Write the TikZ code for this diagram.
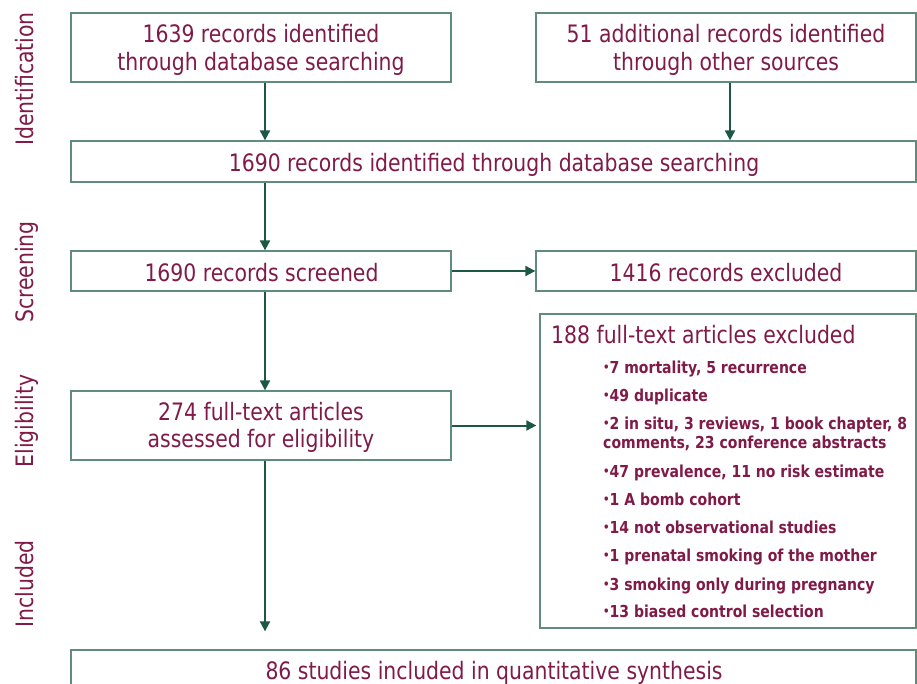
\documentclass[tikz,border=0pt]{standalone}
\usepackage{fontspec}
\setmainfont{DejaVu Sans}[FakeStretch=0.85]
\usetikzlibrary{arrows.meta}
\definecolor{txtc}{RGB}{128,26,72}
\definecolor{bordc}{RGB}{96,140,124}
\definecolor{arrc}{RGB}{28,88,68}
\newcommand{\pbul}{\raisebox{1.5pt}{\fontsize{12}{12}\selectfont •}}
\tikzset{
  boxc/.style={draw=bordc, line width=1.3pt, inner sep=0pt},
  lbl/.style={text=txtc, inner sep=0pt, anchor=base, font=\fontsize{24}{28}\selectfont},
  lblw/.style={lbl, anchor=base west},
  item/.style={text=txtc, inner sep=0pt, anchor=base west, font=\bfseries\fontsize{16.5}{19}\selectfont},
  side/.style={text=txtc, inner sep=0pt, anchor=base, rotate=90, font=\fontsize{24}{28}\selectfont},
  flow/.style={draw=arrc, line width=2pt, -{Triangle[length=10pt,width=10pt]}},
}
\begin{document}
\begin{tikzpicture}[x=1pt,y=-1pt]
\useasboundingbox (0,0) rectangle (917,684);
\clip (0,0) rectangle (917,684);

% boxes
\node[boxc, minimum width=380pt, minimum height=69pt] (A) at (261,47.5) {};
\node[boxc, minimum width=380pt, minimum height=69pt] (B) at (726,47.5) {};
\node[boxc, minimum width=845pt, minimum height=41pt] (C) at (493.5,161.5) {};
\node[boxc, minimum width=380pt, minimum height=40pt] (D) at (261,271) {};
\node[boxc, minimum width=380pt, minimum height=40pt] (E) at (726,271) {};
\node[boxc, minimum width=376pt, minimum height=314pt] (F) at (728,471) {};
\node[boxc, minimum width=380pt, minimum height=69pt] (G) at (261,425.5) {};
\node[boxc, minimum width=845pt, minimum height=40pt] (H) at (493.5,670) {};

% box texts
\node[lbl] (a1) at (261,43) {1639 records identified};
\node[lbl] (a2) at (261,71) {through database searching};
\node[lbl] (b1) at (726,43) {51 additional records identified};
\node[lbl] (b2) at (726,71) {through other sources};
\node[lbl] (c1) at (494,172) {1690 records identified through database searching};
\node[lbl] (d1) at (261.5,281) {1690 records screened};
\node[lbl] (e1) at (726,281) {1416 records excluded};
\node[lbl] (g1) at (261,420.5) {274 full-text articles};
\node[lbl] (g2) at (261,447) {assessed for eligibility};
\node[lbl] (h1) at (494,679) {86 studies included in quantitative synthesis};

% exclusion list
\node[lblw] (ft) at (551,343) {188 full-text articles excluded};
\node[item] (f1) at (603,373) {\pbul7 mortality, 5 recurrence};
\node[item] (f2) at (603,401) {\pbul49 duplicate};
\node[item] (f3) at (603,429) {\pbul2 in situ, 3 reviews, 1 book chapter, 8};
\node[item] (f3b) at (603,448) {comments, 23 conference abstracts};
\node[item] (f4) at (603,477) {\pbul47 prevalence, 11 no risk estimate};
\node[item] (f5) at (603,505) {\pbul1 A bomb cohort};
\node[item] (f6) at (603,533) {\pbul14 not observational studies};
\node[item] (f7) at (603,561) {\pbul1 prenatal smoking of the mother};
\node[item] (f8) at (603,590) {\pbul3 smoking only during pregnancy};
\node[item] (f9) at (603,617) {\pbul13 biased control selection};

% side labels
\node[side] (s1) at (33,79) {Identification};
\node[side] (s2) at (33,272) {Screening};
\node[side] (s3) at (33,421) {Eligibility};
\node[side] (s4) at (33,584) {Included};

% connectors
\draw[flow] ([xshift=4pt]A.south) -- ([xshift=4pt]A.south |- C.north);
\draw[flow] ([xshift=4pt]B.south) -- ([xshift=4pt]B.south |- C.north);
\draw[flow] ([xshift=4pt]D.north |- C.south) -- ([xshift=4pt]D.north);
\draw[flow] (D.east) -- (E.west);
\draw[flow] ([xshift=4pt]D.south) -- ([xshift=4pt]G.north);
\draw[flow, shorten >=3pt] (G.east) -- (G.east -| F.west);
\draw[flow, shorten >=18pt] ([xshift=4pt]G.south) -- ([xshift=4pt]G.south |- H.north);
\end{tikzpicture}
\end{document}
